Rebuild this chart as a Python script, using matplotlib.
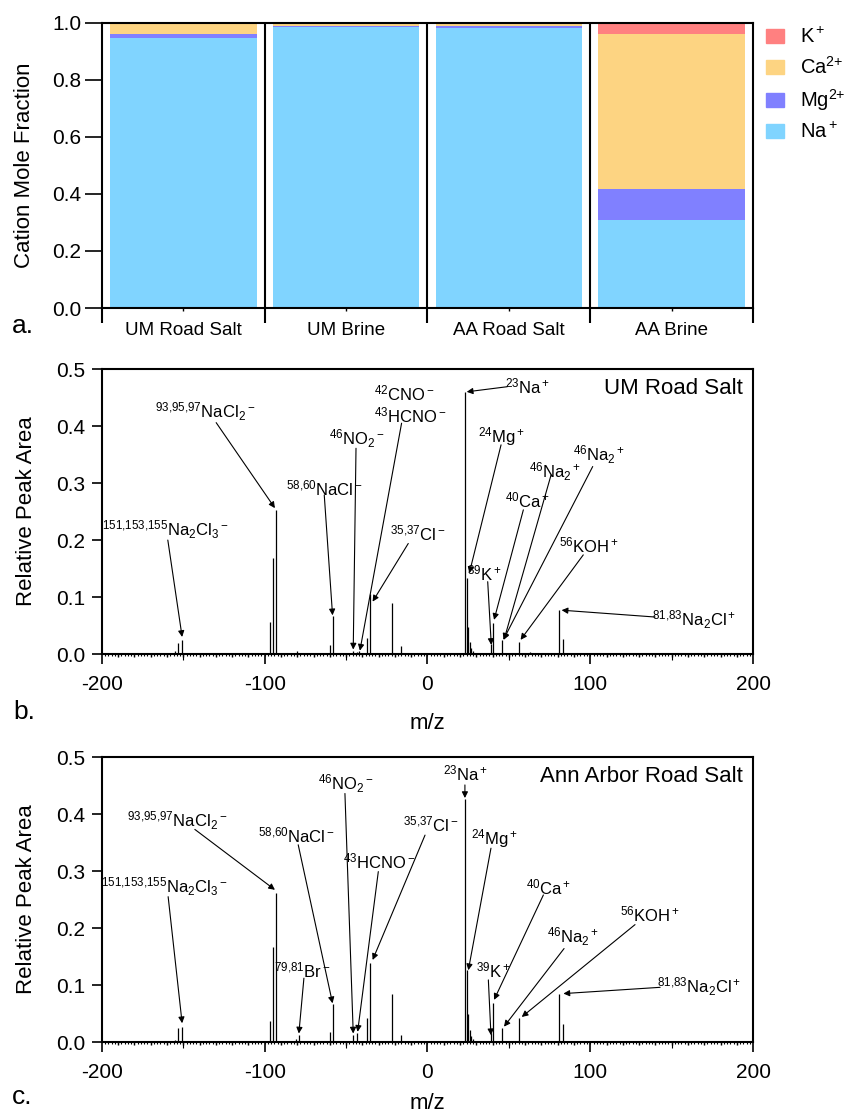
import numpy as np
import matplotlib.pyplot as plt
from matplotlib.patches import Patch
from matplotlib.ticker import MultipleLocator, FormatStrFormatter

plt.rcParams['font.family'] = ['Liberation Sans', 'DejaVu Sans']
plt.rcParams['mathtext.fontset'] = 'custom'
plt.rcParams['mathtext.rm'] = 'Liberation Sans'
plt.rcParams['mathtext.it'] = 'Liberation Sans:italic'
plt.rcParams['mathtext.bf'] = 'Liberation Sans:bold'
plt.rcParams['mathtext.default'] = 'regular'
plt.rcParams['axes.unicode_minus'] = False

# ---- panel a: cation mole fractions
samples = ['UM Road Salt', 'UM Brine', 'AA Road Salt', 'AA Brine']
na = [0.948, 0.987, 0.983, 0.309]
mg = [0.013, 0.001, 0.006, 0.109]
ca = [0.037, 0.011, 0.008, 0.543]
k = [0.002, 0.001, 0.003, 0.039]

# ---- panel b: UM road salt spectrum (negative m/z = anions)
mz_um = [-155, -153, -151, -97, -95, -93, -80, -60, -58, -46, -43, -42, -37, -35,
         -22, -16, 23, 24, 25, 26, 27, 28, 39, 40, 46, 56, 63, 81, 83]
area_um = [0.005, 0.020, 0.025, 0.056, 0.169, 0.253, 0.006, 0.016, 0.066, 0.006,
           0.004, 0.005, 0.029, 0.106, 0.090, 0.014, 0.460, 0.133, 0.048, 0.022,
           0.010, 0.005, 0.018, 0.054, 0.025, 0.022, 0.004, 0.078, 0.027]

# ---- panel c: Ann Arbor road salt spectrum
mz_aa = [-155, -153, -151, -97, -95, -93, -81, -79, -60, -58, -46, -43, -37, -35,
         -22, -16, 23, 24, 25, 26, 27, 28, 39, 40, 46, 56, 81, 83]
area_aa = [0.004, 0.025, 0.026, 0.037, 0.167, 0.262, 0.006, 0.012, 0.018, 0.066,
           0.012, 0.015, 0.043, 0.139, 0.085, 0.012, 0.427, 0.126, 0.050, 0.022,
           0.010, 0.005, 0.016, 0.068, 0.024, 0.042, 0.085, 0.032]

# peak labels: (text, text pos, arrow tail, arrow head)
NA2CL3 = r'$^{151{,}153{,}155}$Na$_2$Cl$_3$$^-$'
NACL2 = r'$^{93{,}95{,}97}$NaCl$_2$$^-$'
NACL = r'$^{58{,}60}$NaCl$^-$'
NO2 = r'$^{46}$NO$_2$$^-$'
NA2 = r'$^{46}$Na$_2$$^+$'
NA2CL = r'$^{81{,}83}$Na$_2$Cl$^+$'
labels_um = [
    (NA2CL3, (-161, 0.218), (-159.5, 0.200), (-150.7, 0.030)),
    (NACL2, (-136.4, 0.425), (-129.8, 0.406), (-93.7, 0.256)),
    (NACL, (-63.3, 0.291), (-63.4, 0.279), (-58.3, 0.068)),
    (NO2, (-43.3, 0.378), (-43.9, 0.361), (-45.6, 0.008)),
    (r'$^{42}$CNO$^-$', (-14.0, 0.457), None, None),
    (r'$^{43}$HCNO$^-$', (-10.5, 0.419), (-15.9, 0.405), (-41.5, 0.006)),
    (r'$^{35{,}37}$Cl$^-$', (-5.8, 0.212), (-11.8, 0.194), (-33.7, 0.092)),
    (r'$^{23}$Na$^+$', (61.5, 0.469), (49.0, 0.469), (24.1, 0.460)),
    (r'$^{24}$Mg$^+$', (45.5, 0.381), (45.2, 0.367), (25.7, 0.142)),
    (NA2, (78.3, 0.320), (75.9, 0.314), (47.0, 0.025)),
    (NA2, (105.7, 0.349), (101.5, 0.329), (46.6, 0.025)),
    (r'$^{40}$Ca$^+$', (61.4, 0.270), (58.9, 0.253), (40.9, 0.060)),
    (r'$^{39}$K$^+$', (35.3, 0.142), (37.0, 0.127), (39.2, 0.016)),
    (r'$^{56}$KOH$^+$', (99.2, 0.191), (95.7, 0.174), (57.2, 0.025)),
    (NA2CL, (164.0, 0.060), (139.8, 0.065), (82.4, 0.077)),
]
labels_aa = [
    (NA2CL3, (-161.3, 0.272), (-159.3, 0.255), (-150.7, 0.033)),
    (NACL2, (-153.6, 0.389), (-142.9, 0.373), (-93.7, 0.267)),
    (NACL, (-80.6, 0.363), (-79.4, 0.346), (-58.3, 0.068)),
    (r'$^{79{,}81}$Br$^-$', (-76.6, 0.126), (-75.9, 0.112), (-79.0, 0.015)),
    (NO2, (-50.2, 0.454), (-50.7, 0.436), (-45.6, 0.015)),
    (r'$^{43}$HCNO$^-$', (-29.4, 0.316), (-30.2, 0.299), (-42.9, 0.018)),
    (r'$^{35{,}37}$Cl$^-$', (2.0, 0.381), (-1.5, 0.363), (-33.7, 0.144)),
    (r'$^{23}$Na$^+$', (23.5, 0.471), (23.0, 0.451), (23.0, 0.428)),
    (r'$^{24}$Mg$^+$', (40.9, 0.357), (39.0, 0.340), (25.1, 0.126)),
    (r'$^{40}$Ca$^+$', (74.7, 0.272), (71.2, 0.258), (40.9, 0.074)),
    (r'$^{39}$K$^+$', (40.4, 0.126), (37.4, 0.109), (39.0, 0.012)),
    (NA2, (89.6, 0.185), (83.9, 0.164), (47.0, 0.027)),
    (r'$^{56}$KOH$^+$', (136.7, 0.223), (127.5, 0.206), (57.9, 0.044)),
    (NA2CL, (167.0, 0.097), (142.9, 0.096), (83.5, 0.085)),
]

c_na, c_mg, c_ca, c_k = '#80D4FF', '#8080FF', '#FDD482', '#FF8080'

fig = plt.figure(figsize=(8.49, 11.2), dpi=100)
L, W, H = 0.120, 0.767, 0.2545
ax_a = fig.add_axes([L, 0.725, W, H])
ax_b = fig.add_axes([L, 0.416, W, H])
ax_c = fig.add_axes([L, 0.0696, W, H])

# ---------- panel a
x = np.arange(len(samples)) + 0.5
bw = 0.9
na = np.array(na); mg = np.array(mg); ca = np.array(ca); k = np.array(k)
ax_a.bar(x, na, bw, color=c_na)
ax_a.bar(x, mg, bw, bottom=na, color=c_mg)
ax_a.bar(x, ca, bw, bottom=na + mg, color=c_ca)
ax_a.bar(x, k, bw, bottom=na + mg + ca, color=c_k)
for b in range(1, len(samples)):
    ax_a.axvline(b, color='k', lw=1.5)
ax_a.set_xlim(0, len(samples))
ax_a.set_ylim(0, 1.0)
ax_a.set_xticks(x)
ax_a.set_xticklabels(samples, fontsize=13.5)
ax_a.set_xticks(np.arange(len(samples) + 1), minor=True)
ax_a.tick_params(axis='x', which='major', length=2, width=1, pad=8)
ax_a.tick_params(axis='x', which='minor', length=11, width=1.5)
ax_a.yaxis.set_major_locator(MultipleLocator(0.2))
ax_a.yaxis.set_major_formatter(FormatStrFormatter('%.1f'))
ax_a.tick_params(axis='y', length=12, width=1.2, labelsize=15, pad=3)
ax_a.set_ylabel('Cation Mole Fraction', fontsize=16, labelpad=12)
for s in ax_a.spines.values():
    s.set_linewidth(1.5)
handles = [Patch(color=c_k, label='K$^+$'), Patch(color=c_ca, label='Ca$^{2{+}}$'),
           Patch(color=c_mg, label='Mg$^{2{+}}$'), Patch(color=c_na, label='Na$^+$')]
ax_a.legend(handles=handles, loc='upper left', bbox_to_anchor=(1.02, 0.985),
            frameon=False, fontsize=14.5, handlelength=0.9, handleheight=0.7,
            handletextpad=0.8, labelspacing=0.45, borderaxespad=0, borderpad=0)


def spectrum(ax, mz, area, labels, title, xpad):
    ax.vlines(mz, 0, area, color='k', lw=0.9)
    ax.set_xlim(-200, 200)
    ax.set_ylim(0, 0.5)
    ax.xaxis.set_major_locator(MultipleLocator(100))
    ax.xaxis.set_minor_locator(MultipleLocator(10))
    ax.yaxis.set_major_locator(MultipleLocator(0.1))
    ax.yaxis.set_major_formatter(FormatStrFormatter('%.1f'))
    ax.tick_params(axis='x', which='major', length=7, width=1.2, labelsize=15, pad=8)
    ax.tick_params(axis='x', which='minor', length=2.5, width=1)
    ax.tick_params(axis='y', length=7, width=1.2, labelsize=15, pad=5)
    for pos, ln in ((np.arange(-150, 200, 100), 4.5), (np.arange(-198, 200, 2), 1.2)):
        sec = ax.secondary_xaxis('bottom')
        sec.spines['bottom'].set_visible(False)
        sec.set_xticks(pos)
        sec.tick_params(length=ln, width=0.8, labelbottom=False)
    for s in ax.spines.values():
        s.set_linewidth(1.5)
    ax.set_ylabel('Relative Peak Area', fontsize=16, labelpad=14)
    ax.set_xlabel('m/z', fontsize=16, labelpad=xpad)
    ax.text(0.985, 0.93, title, transform=ax.transAxes, ha='right', va='center',
            fontsize=16)
    for txt, tpos, tail, head in labels:
        ax.text(tpos[0], tpos[1], txt, ha='center', va='center', fontsize=12)
        if tail is not None:
            ax.annotate('', xy=head, xytext=tail,
                        arrowprops=dict(arrowstyle='-|>', color='k', lw=0.8,
                                        mutation_scale=9, shrinkA=0, shrinkB=0))


spectrum(ax_b, mz_um, area_um, labels_um, 'UM Road Salt', 14)
spectrum(ax_c, mz_aa, area_aa, labels_aa, 'Ann Arbor Road Salt', 8)

fig.text(23 / 849, 1 - 326 / 1120, 'a.', fontsize=19, ha='center', va='center')
fig.text(24 / 849, 1 - 712 / 1120, 'b.', fontsize=19, ha='center', va='center')
fig.text(22 / 849, 1 - 1097 / 1120, 'c.', fontsize=19, ha='center', va='center')

fig.savefig('out.png', dpi=100)
